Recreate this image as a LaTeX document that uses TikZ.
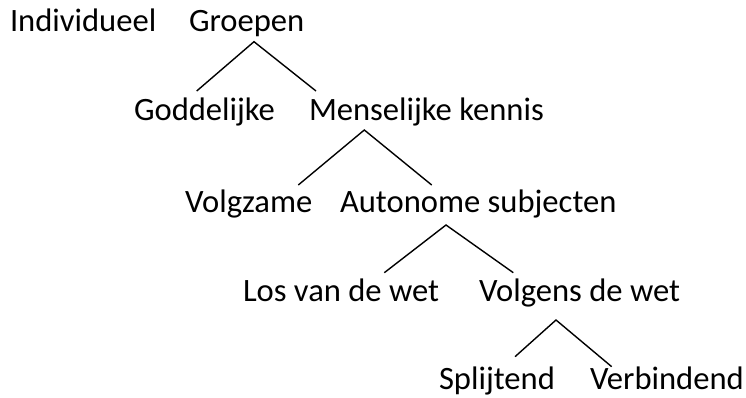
\documentclass[tikz,border=0pt]{standalone}
\usepackage{fontspec}
\setmainfont{Carlito}
\begin{document}
\begin{tikzpicture}[x=1pt,y=-1pt,
  lbl/.style={anchor=base west,inner sep=0pt,outer sep=0pt,font=\fontsize{32.6}{38}\selectfont},
  branch/.style={line width=1.4pt,black}]
\useasboundingbox (0,0) rectangle (746,398);
% row 0
\node[lbl] (ind) at (10,32) {Individueel};
\node[lbl] (grp) at (189,32) {Groepen};
% row 1
\node[lbl] (god) at (134,121) {Goddelijke};
\node[lbl] (men) at (309,121) {Menselijke kennis};
% row 2
\node[lbl] (vol) at (185,212) {Volgzame};
\node[lbl] (aut) at (340,212) {Autonome subjecten};
% row 3
\node[lbl] (los) at (243,301) {Los van de wet};
\node[lbl] (vdw) at (479,301) {Volgens de wet};
% row 4
\node[lbl] (spl) at (439,389) {Splijtend};
\node[lbl] (ver) at (590,389) {Verbindend};
% connector points
\coordinate (a1) at (254,41.7);
\coordinate (l1) at (196.7,91);
\coordinate (r1) at (316,91);
\coordinate (a2) at (364.3,130);
\coordinate (l2) at (298.3,185);
\coordinate (r2) at (431.7,185);
\coordinate (a3) at (446,225);
\coordinate (l3) at (384.3,272.7);
\coordinate (r3) at (513.3,272.7);
\coordinate (a4) at (556,320);
\coordinate (l4) at (515,356.7);
\coordinate (r4) at (611.7,366.7);
\draw[branch] (l1) -- (a1) -- (r1);
\draw[branch] (l2) -- (a2) -- (r2);
\draw[branch] (l3) -- (a3) -- (r3);
\draw[branch] (l4) -- (a4) -- (r4);
\end{tikzpicture}
\end{document}
